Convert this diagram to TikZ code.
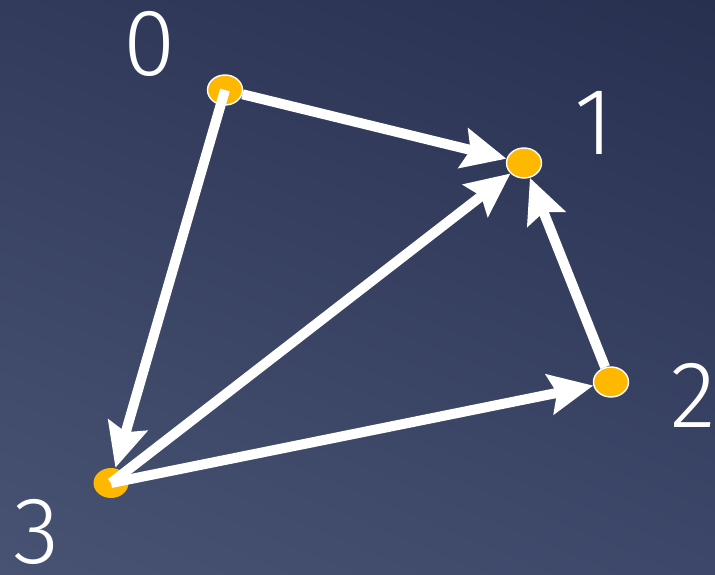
\documentclass[tikz,border=0pt]{standalone}
\usepackage{fontspec}
\setmainfont{Fira Sans Light}
\usepackage{xcolor}
\usetikzlibrary{positioning,arrows.meta,shapes.geometric,shadings}
\definecolor{cDot}{HTML}{FFB800}
\definecolor{bgTL}{HTML}{333B5D}
\definecolor{bgTR}{HTML}{283050}
\definecolor{bgBL}{HTML}{485373}
\definecolor{bgBR}{HTML}{3D4769}

\begin{document}
\begin{tikzpicture}[x=0.02cm,y=-0.02cm]
  \tikzset{
    dot/.style={ellipse, fill=cDot, draw=white, line width=0.8pt,
      minimum width=0.7cm, minimum height=0.6cm, inner sep=0pt},
    lbl/.style={text=white, font=\fontsize{54}{54}\selectfont, inner sep=0pt},
    edge/.style={draw=white, line width=0.2cm,
      -{Stealth[length=0.88cm, width=0.8cm, inset=0.14cm]}},
  }
  % background
  \shade[upper left=bgTL, upper right=bgTR, lower left=bgBL, lower right=bgBR]
    (0,0) rectangle (715,574);
  \useasboundingbox (0,0) rectangle (715,574);
  % vertices
  \node[dot] (n0) at (225,90) {};
  \node[dot] (n1) at (524,163) {};
  \node[dot] (n2) at (611,382) {};
  \node[dot, draw=none] (n3) at (111,483) {};
  % labels
  \node[lbl] (l0) at (150,44) {0};
  \node[lbl] (l1) at (594,123) {1};
  \node[lbl] (l2) at (693,395) {2};
  \node[lbl] (l3) at (37,532) {3};
  % arcs
  \draw[edge] (n0) -- (n1);
  \draw[edge] (n0.center) -- (n3);
  \draw[edge] (n3.center) -- (n1);
  \draw[edge] (n3.center) -- (n2);
  \draw[edge] (n2) -- (n1);
\end{tikzpicture}
\end{document}
